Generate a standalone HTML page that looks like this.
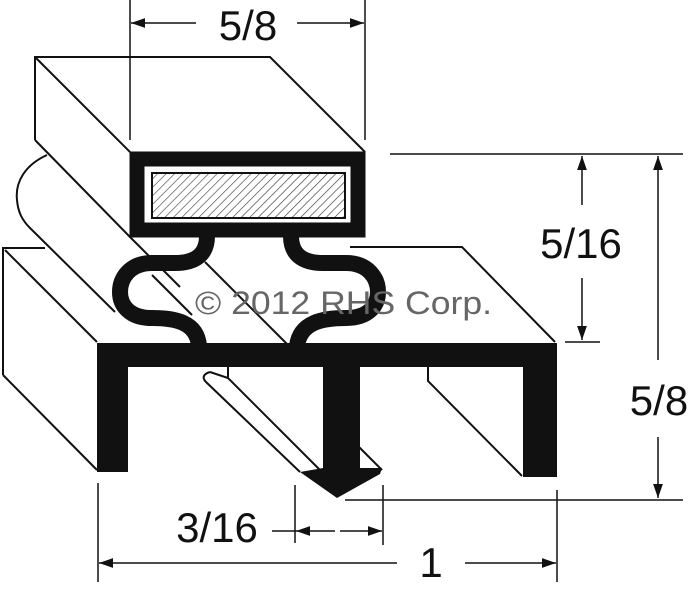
<!DOCTYPE html>
<html><head><meta charset="utf-8"><style>
html,body{margin:0;padding:0;background:#fff;}
svg{display:block;}
text{font-family:"Liberation Sans",sans-serif;}
</style></head><body>
<svg width="691" height="600" viewBox="0 0 691 600" xmlns="http://www.w3.org/2000/svg">
<defs>
<pattern id="h" width="6" height="6" patternUnits="userSpaceOnUse" patternTransform="rotate(45)">
<rect width="6" height="6" fill="#fff"/><line x1="0" y1="0" x2="0" y2="6" stroke="#333" stroke-width="1.2"/>
</pattern>
<marker id="a" viewBox="0 0 10 10" refX="10" refY="5" markerWidth="14" markerHeight="14" markerUnits="userSpaceOnUse" orient="auto-start-reverse"><path d="M0,1.5 L10,5 L0,8.5 Z" fill="#111"/></marker>
</defs>
<g fill="none" stroke="#111" stroke-width="2">
<path d="M3,375 L3,248 L45,248"/>
<path d="M5,250 L97,342"/>
<path d="M3,375 L97,470"/>
<path d="M350,247 L462,247 L555,342"/>
<path d="M47,155 C25,165 15,182 17,200 C18,212 22,220 30,228 L115,312"/>
<path d="M152,275 L192,315"/>
<path d="M205,262 L287,344"/>
<path d="M130,237 L180,287"/>
<path d="M35,140 L35,57 L270,57 L365,152"/>
<path d="M35,57 L130,152"/>
<path d="M35,140 L130,237"/>
<path d="M428,367 L428,381 L522,476"/>
<path d="M228,367 L228,378"/>
<path d="M210,372 C203,374 202,378 206,382 L300,472"/>
<path d="M210,372 L228,378 L320,470"/>
<path d="M358,446 L382,470"/>
</g>
<rect x="137" y="159" width="221" height="71" fill="#fff" stroke="#111" stroke-width="15"/>
<rect x="152" y="173" width="193" height="45" fill="url(#h)" stroke="#111" stroke-width="2"/>
<g fill="none" stroke="#111" stroke-width="16" stroke-linecap="butt">
<path d="M207,236 C207,254 196,263 175,263 L152,263 C130,263 120,278 120,292 C120,306 130,318 152,318 C175,318 197,322 199,346"/>
<path d="M291,236 C291,254 302,263 323,263 L346,263 C368,263 378,278 378,292 C378,306 368,318 346,318 C323,318 300,322 297,346"/>
</g>
<path d="M97,343 L557,343 L557,477 L523,477 L523,367 L360,367 L360,468 L382,468 L380,474 L337,498 L300,472 L323,468 L323,367 L128,367 L128,472 L97,472 Z" fill="#111"/>
<text x="195" y="314" font-size="32" fill="#666" font-family="DejaVu Sans, Liberation Sans, sans-serif" textLength="297" lengthAdjust="spacingAndGlyphs">© 2012 RHS Corp.</text>
<g stroke="#111" stroke-width="1.5" fill="none">
<line x1="130" y1="0" x2="130" y2="140"/>
<line x1="365" y1="0" x2="365" y2="140"/>
<line x1="196" y1="23" x2="131" y2="23" marker-end="url(#a)"/>
<line x1="297" y1="23" x2="364" y2="23" marker-end="url(#a)"/>
<line x1="390" y1="154" x2="683" y2="154"/>
<line x1="565" y1="342" x2="600" y2="342"/>
<line x1="582" y1="205" x2="582" y2="156" marker-end="url(#a)"/>
<line x1="582" y1="278" x2="582" y2="340" marker-end="url(#a)"/>
<line x1="658" y1="360" x2="658" y2="156" marker-end="url(#a)"/>
<line x1="658" y1="437" x2="658" y2="498" marker-end="url(#a)"/>
<line x1="345" y1="500" x2="683" y2="500"/>
<line x1="98" y1="483" x2="98" y2="582"/>
<line x1="557" y1="490" x2="557" y2="582"/>
<line x1="295" y1="485" x2="295" y2="543"/>
<line x1="383" y1="485" x2="383" y2="545"/>
<line x1="272" y1="531" x2="296" y2="531"/>
<line x1="335" y1="531" x2="296" y2="531" marker-end="url(#a)"/>
<line x1="340" y1="531" x2="382" y2="531" marker-end="url(#a)"/>
<line x1="397" y1="563" x2="99" y2="563" marker-end="url(#a)"/>
<line x1="465" y1="563" x2="556" y2="563" marker-end="url(#a)"/>
</g>
<g fill="#111" font-size="42">
<text x="248" y="40" text-anchor="middle">5/8</text>
<text x="581" y="258" text-anchor="middle">5/16</text>
<text x="659" y="415" text-anchor="middle">5/8</text>
<text x="217" y="542" text-anchor="middle">3/16</text>
<text x="431" y="577" text-anchor="middle">1</text>
</g>
</svg>
</body></html>
